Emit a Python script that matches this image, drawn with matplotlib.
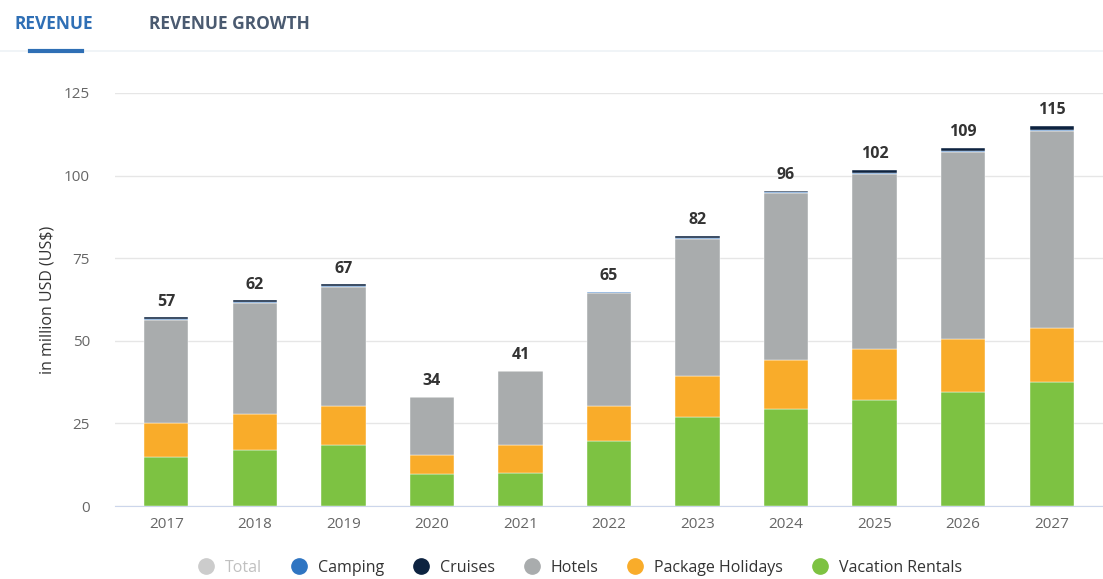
import matplotlib
matplotlib.use('Agg')
import matplotlib.pyplot as plt
from matplotlib.lines import Line2D
import numpy as np

plt.rcParams['font.family'] = ['Open Sans', 'DejaVu Sans']

years = ['2017', '2018', '2019', '2020', '2021', '2022', '2023', '2024', '2025', '2026', '2027']
vacation = [14.8, 17.0, 18.5, 9.7, 10.0, 19.7, 26.9, 29.4, 32.1, 34.5, 37.5]
package = [10.3, 10.8, 11.8, 5.7, 8.5, 10.6, 12.4, 14.8, 15.4, 16.0, 16.4]
hotels = [31.2, 33.6, 36.0, 17.6, 22.4, 34.2, 41.5, 50.5, 53.0, 56.6, 59.6]
camping = [0.4, 0.4, 0.4, 0.1, 0.1, 0.2, 0.3, 0.3, 0.3, 0.3, 0.3]
cruises = [0.4, 0.4, 0.4, 0.0, 0.0, 0.1, 0.6, 0.4, 1.0, 1.0, 1.2]
totals = [57, 62, 67, 34, 41, 65, 82, 96, 102, 109, 115]

series = [('Vacation Rentals', vacation, '#7dc242'),
          ('Package Holidays', package, '#f9ac2a'),
          ('Hotels', hotels, '#a9acad'),
          ('Camping', camping, '#2f75c2'),
          ('Cruises', cruises, '#0d2340')]

W, H = 1103, 579
fig = plt.figure(figsize=(W / 100, H / 100), dpi=100)
ax = fig.add_axes([115 / W, (H - 506) / H, (W - 115) / W, (506 - 93) / H])

x = np.arange(len(years))
bottom = np.zeros(len(years))
for name, vals, col in series:
    ax.bar(x, vals, bottom=bottom, width=0.5, color=col, edgecolor='white', linewidth=0.3, zorder=3)
    bottom += np.array(vals)

for xi, top, t in zip(x, bottom, totals):
    ax.text(xi, top + 2.3, str(t), ha='center', va='bottom', fontsize=11.5,
            fontweight='bold', color='#333333')

ax.set_xlim(-0.58, len(years) - 0.42)
ax.set_ylim(0, 125)
ax.set_yticks([0, 25, 50, 75, 100, 125])
ax.set_xticks(x)
ax.set_xticklabels(years)
ax.tick_params(axis='both', length=0, labelsize=11, colors='#666666')
ax.tick_params(axis='y', pad=18)
ax.tick_params(axis='x', pad=8)
ax.grid(axis='y', color='#e6e6e6', linewidth=1, zorder=0)
for s in ['top', 'right', 'left']:
    ax.spines[s].set_visible(False)
ax.spines['bottom'].set_color('#ccd6eb')
ax.set_ylabel('in million USD (US$)', fontsize=11.5, color='#333333', labelpad=6)

# tabs header
fig.text(15 / W, 1 - 24 / H, 'REVENUE', fontsize=12.5, fontweight='bold', color='#2f6fb5', va='center')
fig.text(149 / W, 1 - 24 / H, 'REVENUE GROWTH', fontsize=12.5, fontweight='bold', color='#4a5a70', va='center')
fig.add_artist(Line2D([0, 1], [1 - 51 / H, 1 - 51 / H], color='#eef2f6', linewidth=1.2))
fig.add_artist(Line2D([30 / W, 82 / W], [1 - 51 / H, 1 - 51 / H], color='#2f6fb5', linewidth=3))

# legend
handles = [Line2D([], [], marker='o', linestyle='', markersize=11, color='#cccccc', label='Total')]
for name, col in [('Camping', '#2f75c2'), ('Cruises', '#0d2340'), ('Hotels', '#a9acad'),
                  ('Package Holidays', '#f9ac2a'), ('Vacation Rentals', '#7dc242')]:
    handles.append(Line2D([], [], marker='o', linestyle='', markersize=11, color=col, label=name))
leg = fig.legend(handles=handles, loc='center', bbox_to_anchor=(576 / W, 1 - 568 / H), ncol=6,
                 frameon=False, fontsize=11.5, handletextpad=0.2, columnspacing=1.3)
for i, txt in enumerate(leg.get_texts()):
    txt.set_color('#c0c0c0' if i == 0 else '#333333')

fig.savefig('out.png', dpi=100)
